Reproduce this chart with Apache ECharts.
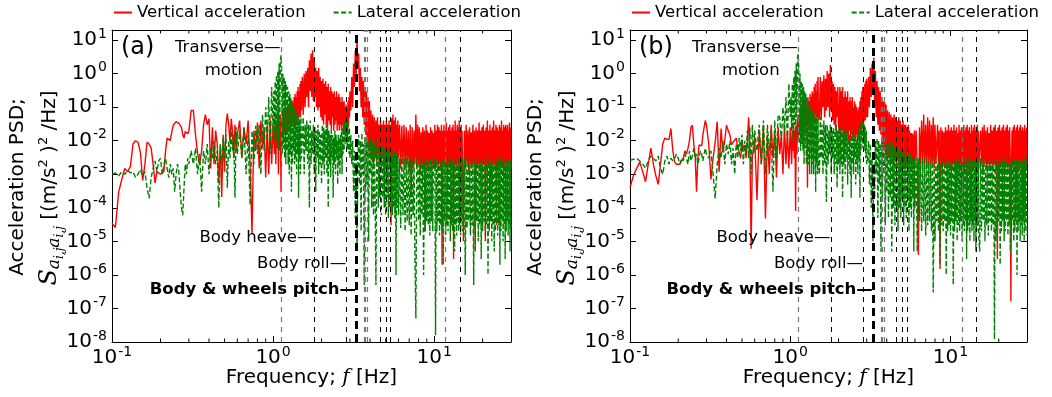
<!DOCTYPE html>
<html>
<head>
<meta charset="utf-8">
<script src="https://cdn.jsdelivr.net/npm/echarts@6/dist/echarts.min.js"></script>
<style>
  html, body { margin: 0; padding: 0; background: #fff; }
  #chart { width: 1052px; height: 397px; }
</style>
</head>
<body>
<div id="chart"></div>
<script>
// frequency grid shared by every trace (Hz)
const freqs = [
  0.1,0.105,0.11,0.115,0.12,0.125,0.13,0.135,0.14,0.145,0.15,0.155,0.16,0.165,0.17,0.175,0.18,0.185,0.19,0.195,
  0.2,0.205,0.21,0.215,0.22,0.225,0.23,0.235,0.24,0.245,0.25,0.255,0.26,0.265,0.27,0.275,0.28,0.285,0.29,0.295,0.3,
  0.31,0.32,0.33,0.34,0.35,0.36,0.37,0.38,0.39,0.4,0.41,0.42,0.43,0.44,0.45,0.46,0.47,0.48,0.49,0.5,
  0.51,0.52,0.53,0.54,0.55,0.56,0.57,0.58,0.59,0.6,
  0.62,0.64,0.66,0.68,0.7,0.72,0.74,0.76,0.78,0.8,0.82,0.84,0.86,0.88,0.9,0.92,0.94,0.96,0.98,1,
  1.01,1.02,1.03,1.04,1.05,1.06,1.07,1.08,1.09,1.1,1.11,1.12,1.13,1.14,1.15,1.16,1.17,1.18,1.19,1.2,
  1.21,1.22,1.23,1.24,1.25,1.26,1.27,1.28,1.29,1.3,1.31,1.32,1.33,1.34,1.35,1.36,1.37,1.38,1.39,1.4,
  1.41,1.42,1.43,1.44,1.45,1.46,1.47,1.48,1.49,1.5,
  1.52,1.54,1.56,1.58,1.6,1.62,1.64,1.66,1.68,1.7,1.72,1.74,1.76,1.78,1.8,1.82,1.84,1.86,1.88,1.9,
  1.92,1.94,1.96,1.98,2,
  2.02,2.04,2.06,2.08,2.1,2.12,2.14,2.16,2.18,2.2,2.22,2.24,2.26,2.28,2.3,2.32,2.34,2.36,2.38,2.4,
  2.42,2.44,2.46,2.48,2.5,2.52,2.54,2.56,2.58,2.6,2.62,2.64,2.66,2.68,2.7,2.72,2.74,2.76,2.78,2.8,
  2.82,2.84,2.86,2.88,2.9,2.92,2.94,2.96,2.98,3,
  3.04,3.08,3.12,3.16,3.2,3.24,3.28,3.32,3.36,3.4,3.44,3.48,3.52,3.56,3.6,3.64,3.68,3.72,3.76,3.8,
  3.84,3.88,3.92,3.96,4,
  4.05,4.1,4.15,4.2,4.25,4.3,4.35,4.4,4.45,4.5,4.55,4.6,4.65,4.7,4.75,4.8,4.85,4.9,4.95,5,
  5.05,5.1,5.15,5.2,5.25,5.3,5.35,5.4,5.45,5.5,5.55,5.6,5.65,5.7,5.75,5.8,5.85,5.9,5.95,6,
  6.1,6.2,6.3,6.4,6.5,6.6,6.7,6.8,6.9,7,7.1,7.2,7.3,7.4,7.5,7.6,7.7,7.8,7.9,8,
  8.1,8.2,8.3,8.4,8.5,8.6,8.7,8.8,8.9,9,9.1,9.2,9.3,9.4,9.5,9.6,9.7,9.8,9.9,10,
  10.1,10.2,10.3,10.4,10.5,10.6,10.7,10.8,10.9,11,11.1,11.2,11.3,11.4,11.5,11.6,11.7,11.8,11.9,12,
  12.1,12.2,12.3,12.4,12.5,12.6,12.7,12.8,12.9,13,13.1,13.2,13.3,13.4,13.5,13.6,13.7,13.8,13.9,14,
  14.1,14.2,14.3,14.4,14.5,14.6,14.7,14.8,14.9,15,
  15.2,15.4,15.6,15.8,16,16.2,16.4,16.6,16.8,17,17.2,17.4,17.6,17.8,18,
  18.2,18.4,18.6,18.8,19,19.2,19.4,19.6,19.8,20,20.2,20.4,20.6,20.8,21,21.2,21.4,21.6,21.8,22,
  22.2,22.4,22.6,22.8,23,23.2,23.4,23.6,23.8,24,24.2,24.4,24.6,24.8,25,25.2,25.4,25.6,25.8,26,
  26.2,26.4,26.6,26.8,27,27.2,27.4,27.6,27.8,28,28.2,28.4,28.6,28.8,29,29.2,29.4,29.6,29.8,30
];

// panel (a): vertical acceleration PSD
const vertA = [
  3.5e-5,2.6e-5,3e-4,7e-4,1.5e-3,1.2e-3,1.7e-3,8e-3,1e-2,9e-3,4.6e-3,6.6e-4,1.9e-3,9e-3,8e-3,6e-3,2e-3,5.5e-4,1.2e-3,1.1e-3,
  1e-3,1.1e-3,1.2e-3,5e-3,1.2e-2,1.3e-2,1e-2,1.8e-2,2.9e-2,3.2e-2,3.7e-2,3.5e-2,3.3e-2,3.3e-2,2.5e-2,1.5e-2,1.2e-2,1.9e-2,1.7e-2,1.6e-2,1.9e-2,
  8e-2,8e-2,1.5e-2,4.2e-3,1.9e-3,5e-3,2.9e-2,6e-2,3e-2,4.5e-2,1.5e-3,2.5e-2,2e-3,2e-2,8e-3,5.5e-4,7e-3,2.1e-4,1.5e-2,1.2e-3,
  3e-2,6.5e-2,3e-2,9e-3,4.5e-2,1.9e-2,3e-3,3e-2,5e-3,1.5e-2,
  4e-2,3e-3,2.5e-2,8e-3,4e-2,2e-3,1.7e-5,2e-2,5e-3,3.5e-2,1.5e-3,4e-2,6e-3,2.5e-2,8e-4,3e-2,1e-3,4.5e-2,2e-3,3e-2,
  3e-2,4e-3,5e-2,2e-3,3e-2,6e-3,6e-2,1e-3,4e-2,5e-3,6e-2,3e-4,5e-2,1.5e-2,8e-2,1.2e-2,7e-2,2e-2,1e-1,1.5e-2,
  9e-2,1.8e-2,1.2e-1,2e-2,1e-1,3e-2,1.4e-1,2e-2,1.2e-1,2.5e-2,1.6e-1,3e-2,1.4e-1,2.5e-2,2e-1,3e-2,2.5e-1,4e-2,2e-1,3e-2,
  3e-1,4e-2,4e-1,5e-2,3e-1,6e-2,5e-1,5e-2,6e-1,8e-2,
  8e-1,6e-2,1,1e-1,1.2,2e-1,1.5,1e-1,2.5,3e-1,4,2e-1,5,1.5e-1,3,2e-1,1.5,1e-1,1.2,8e-2,
  1.5,1e-1,8e-1,5e-2,6e-1,
  4e-2,7e-1,3e-2,5e-1,6e-2,6e-1,3e-2,4e-1,2.5e-2,5e-1,4e-2,3e-1,3e-2,4e-1,2e-2,3e-1,5e-2,2.5e-1,2e-2,3e-1,
  3e-2,2e-1,4e-2,3e-1,2e-2,2e-1,3e-2,2.5e-1,2e-2,2e-1,3e-2,1.4e-1,2e-2,2e-1,3e-2,1.4e-1,2e-2,1.5e-1,1.5e-2,1e-1,
  2e-2,1.2e-1,1.5e-2,1e-1,2e-2,1.5e-1,3e-2,2e-1,5e-2,3e-1,
  8e-2,8e-1,1e-1,2,4e-1,5,1,12,1.5,4,3e-1,1.5,1e-1,8e-1,5e-2,6e-1,3e-2,4e-1,1.5e-2,3e-1,
  8e-3,2e-1,5e-3,1.5e-1,4e-3,
  8e-2,3e-3,6e-2,2e-3,5e-2,3e-3,4e-2,2e-3,5e-2,4e-3,3e-2,2e-3,4e-2,1.5e-3,3e-2,3e-3,4e-2,2e-3,3e-2,1.5e-3,
  4e-2,2e-3,3e-2,3e-3,4e-2,2e-3,3e-2,3e-5,4.7e-2,2e-3,6e-2,1.5e-3,4e-2,3e-3,5e-2,1.5e-3,3e-2,2e-3,4e-2,3e-3,
  3e-2,1.5e-3,2.8e-2,2e-3,3e-2,1.5e-3,2.5e-2,2e-3,2e-2,1.2e-3,3e-2,2e-4,2.5e-2,1.5e-3,2e-2,2e-3,6e-2,1.5e-3,3e-2,2e-3,
  2.5e-2,1e-3,1.8e-2,2e-3,2.5e-2,1.5e-3,2e-2,2e-5,3e-2,1.8e-3,2e-2,1.5e-3,1.7e-2,2e-3,2.5e-2,1.5e-3,2e-2,2e-3,1.7e-2,1.5e-3,
  3e-2,1.5e-3,2e-2,2e-3,3e-2,1.5e-3,2.5e-2,2e-3,2e-2,1.5e-3,3e-2,2e-6,2e-2,2e-3,3e-2,1.5e-3,2e-2,2e-3,3.5e-2,1.5e-3,
  2e-2,2e-3,2.5e-2,1.5e-3,3e-2,2e-3,2e-2,1.5e-3,2.5e-2,2e-3,3e-2,3e-6,2e-2,1.5e-3,4e-2,2e-3,2e-2,1.5e-3,3e-2,2e-3,
  2.5e-2,1.5e-3,4e-2,2e-3,2e-2,1.5e-3,3e-2,2e-3,2e-2,1.5e-3,
  1e-5,2e-2,1.5e-3,3e-2,2e-3,
  2e-2,1.3e-3,2.5e-2,2e-3,1.8e-2,1.5e-3,3e-2,2e-3,2e-2,5e-6,
  2.5e-2,1.5e-3,2e-2,2e-3,3.5e-2,1.5e-3,2e-2,2e-3,2.5e-2,1.5e-3,
  3e-2,2e-3,2e-2,1e-5,2.5e-2,1.5e-3,4e-2,2e-3,2e-2,1.5e-3,
  3e-2,2e-3,2e-2,1.5e-3,2.5e-2,2e-3,4e-2,1.5e-3,2e-2,2e-3,
  3e-2,3e-5,2.5e-2,1.5e-3,2e-2,2e-3,3e-2,1.5e-3,2.5e-2,2e-3,
  4e-2,1.5e-3,2e-2,2e-3,3e-2,1.5e-3,2.5e-2,2e-3,3e-2,2e-3,
  2.5e-2,1.5e-3,3e-2,2e-3,2e-2,1.5e-3,3.5e-2,2e-3,2.5e-2,1.5e-3
];

// panel (a): lateral acceleration PSD
const latA = [
  1e-3,1.1e-3,9e-4,1.2e-3,1e-3,1.3e-3,1.1e-3,1.2e-3,8e-4,1e-3,1.4e-3,9e-4,1.2e-3,4e-4,1.9e-4,8e-4,1.5e-3,2.5e-3,1.2e-3,2.5e-3,
  3e-3,1e-3,2e-3,3e-3,1.5e-3,8e-4,2e-3,1e-3,1.5e-3,3e-4,1e-3,2e-3,1.2e-3,3e-4,1e-4,6e-5,4e-4,2e-3,1e-3,3e-3,2e-3,
  5e-3,2e-3,6e-3,1e-3,4e-3,3e-4,5e-3,2e-3,8e-3,1e-3,6e-3,3e-3,1e-2,2e-3,5e-3,1e-4,8e-3,2e-3,1.2e-2,3e-3,
  1.5e-2,4e-4,1e-2,3e-3,2e-2,5e-3,1.5e-2,2e-4,2.5e-2,4e-3,
  2e-2,3e-3,2.5e-2,1e-3,1.5e-2,1.2e-4,2e-2,2e-3,2.8e-2,4e-3,3e-2,1e-3,6e-2,5e-3,1e-1,1e-2,2e-1,4e-3,4e-1,2e-2,
  3e-1,1e-2,6e-1,2e-2,9e-1,1e-2,1.2,5e-3,2,3e-2,2.5,3.5,1.5,4e-3,1,6e-3,8e-1,3e-3,6e-1,2e-3,
  5e-1,5e-3,4e-1,2e-3,3e-1,1e-3,2.5e-1,4e-3,2e-1,3e-4,1.5e-1,2e-3,1.2e-1,5e-3,1e-1,2e-3,8e-2,3e-3,7e-2,1e-3,
  6e-2,4e-3,5e-2,2e-4,6e-2,3e-3,4e-2,1e-3,5e-2,3e-3,
  3e-3,5e-2,1e-3,3e-2,5e-3,4e-2,2e-3,3e-2,1e-4,4e-2,2e-3,2e-2,4e-3,3e-2,1e-3,2.5e-2,3e-4,2e-2,3e-3,3e-2,
  1e-3,2e-2,2e-3,1.5e-2,5e-4,
  3e-2,2e-3,2.5e-2,1e-3,2e-2,3e-3,3e-2,1e-3,2.5e-2,1e-4,2e-2,2e-3,1.5e-2,8e-4,2e-2,3e-3,1.5e-2,2e-4,1.2e-2,2e-3,
  2e-2,1e-3,1.5e-2,3e-3,1e-2,5e-4,1.5e-2,2e-3,1.2e-2,1e-3,1.5e-2,3e-3,2e-2,1e-3,2.5e-2,4e-3,3e-2,5e-3,4e-2,8e-3,
  4.5e-2,1e-2,4e-2,6e-3,3.5e-2,5e-3,3e-2,4e-3,2.5e-2,3e-3,
  1.5e-2,2e-3,1e-2,3e-4,5e-3,5e-5,3e-3,5e-6,2e-3,1.5e-2,5e-4,1e-2,2e-5,1.7e-2,1e-3,8e-3,5e-7,1e-2,3e-4,1.2e-2,
  5e-4,8e-3,1e-5,1e-2,1e-3,
  1.2e-2,1e-4,1e-2,6e-5,8e-3,2e-4,5e-7,8e-3,1.2e-2,1e-4,6e-3,2e-4,8e-3,6e-5,6e-3,2e-4,8e-3,1e-4,5e-3,6e-5,
  6e-3,2e-4,5e-3,5e-5,6e-3,1e-4,4e-3,2e-4,5e-3,6e-5,4e-3,1e-4,5e-3,5e-5,4e-3,1e-6,4e-3,1e-4,3e-3,6e-5,
  3e-3,2.5e-5,4e-3,6e-5,3e-3,2e-5,3e-3,4e-5,2.5e-3,3e-5,3e-3,1.5e-5,2e-3,6e-5,3e-3,3e-6,5e-8,2.5e-3,3e-3,4e-5,
  2e-3,1.5e-5,3e-3,6e-5,2.5e-3,1e-6,2e-3,2e-5,3e-3,4e-5,2e-3,3e-5,2.5e-3,1.5e-5,3e-3,4e-5,2e-3,2e-5,3e-3,2e-3,
  3e-3,1.6e-8,2.5e-3,2e-5,3e-3,4e-5,2e-3,1.5e-5,2.5e-3,3e-5,2e-3,2e-5,3e-3,2e-6,2e-3,4e-5,2.5e-3,1.5e-5,2e-3,3e-5,
  3e-3,2e-5,2e-3,4e-5,2.5e-3,1e-5,3e-3,3e-5,2e-3,2e-5,2.5e-3,4e-5,2e-3,5e-6,3e-3,3e-5,2e-3,1.5e-5,2.5e-3,4e-5,
  2e-3,2e-5,3e-3,3e-5,2e-3,1.5e-5,2.5e-3,4e-5,3e-3,2e-5,
  3e-5,3e-3,1e-6,2e-3,2.5e-5,
  2.5e-3,4e-5,2e-3,1.5e-5,3e-3,3e-5,2e-3,5e-7,2.5e-3,2e-5,
  2e-3,4e-5,3e-3,1e-5,2e-3,3e-5,2.5e-3,3e-6,2e-3,2e-5,
  3e-3,4e-5,2e-3,1.5e-5,2.5e-3,3e-5,2e-3,1e-6,3e-3,2e-5,
  2e-3,4e-5,2.5e-3,1e-5,2e-3,3e-5,3e-3,5e-6,2e-3,2e-5,
  2.5e-3,4e-5,2e-3,1.5e-5,3e-3,3e-5,2e-3,2e-6,2.5e-3,2e-5,
  2e-3,4e-5,3e-3,1e-5,2e-3,3e-5,2.5e-3,3e-6,2e-3,2e-5,
  2.5e-3,4e-5,2e-3,1.5e-5,3e-3,3e-5,2e-3,5e-6,2.5e-3,2e-5
];

// panel (b): vertical acceleration PSD
const vertB = [
  4e-4,9e-4,1.5e-3,2.3e-3,1.2e-3,6e-4,2e-3,6e-3,2e-3,9e-4,5e-4,2e-3,8e-3,1.2e-2,1.1e-2,1.1e-2,2.3e-2,5e-3,2.3e-3,2e-3,
  2.2e-3,2e-3,2.6e-3,3e-3,5e-3,4e-3,5.9e-3,1e-2,2.5e-2,2.9e-2,8e-3,3.5e-3,3e-4,3e-3,7.5e-3,8e-3,7e-3,1.5e-2,2.5e-2,4e-2,2.9e-2,
  8e-3,7e-4,3e-3,9e-3,3.7e-2,1.2e-3,2.3e-2,4.6e-3,1e-2,2.9e-2,2e-2,1.5e-2,7.5e-3,9e-3,1e-2,1.2e-2,6e-3,4.6e-3,3e-3,9e-3,
  6e-3,7.5e-3,3e-3,1e-2,5e-2,5e-3,6e-6,4e-3,4.6e-3,1.2e-2,
  1.7e-4,2e-2,2e-3,3e-2,4.8e-5,1.5e-2,1e-3,3e-2,3e-3,2e-2,8e-4,2.5e-2,4e-3,1.5e-2,1e-3,3e-2,2e-3,2e-2,1.5e-3,2.5e-2,
  2.5e-2,2e-3,2e-2,5e-3,3e-2,3e-3,2e-2,8e-5,3e-2,4e-3,5e-2,1e-2,6e-2,1.5e-2,8e-2,2e-2,1e-1,1.3e-2,1.5e-1,2e-2,
  1e-1,3e-2,1.5e-1,2e-2,2e-1,3e-2,1.2e-1,4e-4,2e-1,3e-2,1.5e-1,2e-2,2.5e-1,4e-2,2e-1,3e-2,3e-1,2.8e-2,2.5e-1,5e-2,
  4e-1,3e-2,5e-1,6e-2,3e-1,4e-2,6e-1,5e-2,8e-1,4e-2,
  5e-2,8e-1,4e-2,6e-1,1e-1,9e-1,5e-2,7e-1,8e-2,1.2,1e-1,1,5e-2,1.8,8e-2,6e-1,4e-2,5e-1,3e-2,4e-1,
  2e-2,3e-1,5e-2,4e-1,3e-2,
  2e-2,4e-1,1.5e-2,3e-1,2e-2,4e-1,1e-2,2e-1,2e-2,3e-1,1e-2,2e-1,1.5e-2,3e-1,1e-2,1.5e-1,2e-2,2e-1,1e-2,1.5e-1,
  1.5e-2,2e-1,1e-2,1e-1,1.3e-2,1.5e-1,1e-2,1.2e-1,1.5e-2,1e-1,1e-2,8e-2,1.3e-2,1e-1,1e-2,1.5e-1,2e-2,2e-1,2e-2,3e-1,
  3e-2,4e-1,3e-2,3e-1,4e-2,5e-1,4e-2,6e-1,5e-2,7e-1,
  5e-2,8e-1,1e-1,1.5,2e-1,2,3e-1,3,1e-1,1.2,5e-2,6e-1,3e-2,4e-1,2e-2,3e-1,1.5e-2,2e-1,8e-3,1.5e-1,
  5e-3,1.4e-1,4e-3,1.2e-1,3e-3,
  8e-2,3e-3,7e-2,2e-3,6e-2,3e-3,5e-2,2e-3,6e-2,3e-3,5e-2,2e-3,4e-2,3e-3,5e-2,2e-3,4e-2,1.5e-3,3e-2,2e-3,
  4e-2,1.5e-3,3e-2,2e-3,3e-2,1.5e-3,2.5e-2,2e-3,3e-2,1.5e-3,2e-2,2e-3,1.7e-2,1.5e-3,1.7e-2,2e-3,1.5e-2,1.5e-3,2e-2,2e-3,
  2e-2,1.5e-3,4e-6,2.5e-2,2e-3,4e-2,1.5e-3,6e-2,2e-3,3e-2,1.5e-3,5e-2,2e-3,4e-2,1.5e-3,3e-2,2e-3,5e-2,1.5e-3,3e-2,
  2e-3,2e-3,3e-2,1.5e-3,2e-2,1.5e-6,2.5e-2,1.5e-3,2e-2,2e-3,1.8e-2,1.5e-3,2.5e-2,2e-3,2e-2,1.5e-3,3e-2,2e-3,2e-2,1.5e-3,
  2.5e-2,1.5e-3,2e-2,2e-3,3e-2,1.3e-3,2e-2,2e-3,2.5e-2,1.5e-3,1.7e-2,2e-3,3e-2,1.3e-3,2e-2,2e-3,2.5e-2,1.5e-3,1.8e-2,2e-3,
  3e-2,1.3e-3,2e-2,2e-3,2.5e-2,1.5e-3,3e-2,2e-3,2e-2,1.3e-3,2.5e-2,2e-3,1.7e-2,1.5e-3,3e-2,2e-3,2e-2,1.3e-3,2.5e-2,2e-3,
  3e-2,1.5e-3,2e-2,2e-3,2.5e-2,1.3e-3,3e-2,2e-3,2e-2,1.5e-3,
  1.5e-3,2e-2,2e-3,2.5e-2,1.3e-3,
  3e-2,2e-3,2e-2,1.5e-3,2.5e-2,2e-3,1.7e-2,1.3e-3,3e-2,2e-3,
  2e-2,1.5e-3,2.5e-2,2e-3,3e-2,1.3e-3,2e-2,3e-6,2.5e-2,2e-3,
  3e-2,1.5e-3,2e-2,2e-3,2.5e-2,1.3e-3,3e-2,2e-3,2e-2,1.5e-3,
  2.5e-2,2e-3,3e-2,1.3e-3,2e-2,2e-3,2.5e-2,2e-3,1.6e-7,1.5e-3,
  2e-2,2e-3,2.5e-2,1.3e-3,3e-2,2e-3,2e-2,1.5e-3,2.5e-2,2e-3,
  3e-2,1.3e-3,2e-2,2e-3,2.5e-2,1.5e-3,3e-2,2e-3,2e-2,1.5e-3,
  2.5e-2,2e-3,2e-2,1.3e-3,3e-2,2e-3,2e-2,1.5e-3,2.5e-2,2e-3
];

// panel (b): lateral acceleration PSD
const latB = [
  2.6e-3,2.8e-3,3e-3,2.5e-3,2e-3,1.5e-3,2.5e-3,3.5e-3,3e-3,2.5e-3,3.5e-3,1.5e-3,1e-3,2.5e-3,3.5e-3,2e-3,3e-3,2.5e-3,3e-3,4e-3,
  3e-3,2e-3,3e-3,2.5e-3,4e-3,3e-3,2e-3,5e-3,2.5e-3,3.5e-3,6e-3,3e-3,4e-3,2e-3,3e-3,5e-3,4e-3,2.5e-3,4e-3,6e-3,4e-3,
  3e-3,5e-3,1e-3,1.9e-4,2e-3,6e-3,3e-3,1e-2,2e-3,8e-3,4e-3,1e-2,2e-3,6e-3,1e-3,8e-3,3e-3,1.2e-2,5e-3,1.5e-2,
  2e-3,1e-2,4e-3,2e-2,3e-3,2.5e-2,1e-3,3e-2,4e-3,2e-2,
  5e-3,3e-2,2e-3,4e-2,1e-3,3e-2,5e-3,2e-2,3e-4,4e-2,3e-3,6e-2,5e-2,1e-2,1e-1,2e-2,2e-1,1e-2,5e-1,5e-2,
  2e-1,2e-2,5e-1,1e-2,8e-1,3e-2,1.2,1e-2,2,5e-2,3,4,1.5,8e-3,1,5e-3,6e-1,8e-3,5e-1,5e-3,
  4e-1,2e-3,3e-1,6e-3,2.5e-1,2e-3,2e-1,6e-3,1.5e-1,2e-3,1.2e-1,1e-3,1e-1,3e-3,9e-2,1e-3,8e-2,2e-3,7e-2,1e-3,
  6e-2,3e-3,5e-2,3e-4,6e-2,2e-3,5e-2,1e-3,4e-2,2e-3,
  1e-3,5e-2,3e-3,3e-2,1e-3,4e-2,2e-3,3e-2,1.5e-4,3e-2,2e-3,2e-2,4e-3,3e-2,1e-3,2e-2,3e-3,2.5e-2,1e-3,2e-2,
  2e-3,3e-2,4e-4,2e-2,2e-3,
  2.5e-2,1e-3,2e-2,2e-3,2.5e-2,2e-4,1.5e-2,2e-3,2e-2,1e-3,1.5e-2,3e-3,2e-2,5e-4,1.2e-2,2e-3,1.5e-2,1e-3,1e-2,2e-4,
  1.5e-2,2e-3,2e-2,1e-3,1.2e-2,3e-3,1.5e-2,5e-4,1e-2,2e-3,1.5e-2,1e-3,2e-2,3e-3,2.5e-2,2e-4,3e-2,5e-3,4e-2,1e-2,
  3.5e-2,6e-3,4e-2,8e-3,3e-2,5e-3,2.5e-2,3e-3,2e-2,2e-3,
  3e-3,1e-2,5e-4,8e-3,1e-4,3e-3,1e-5,2e-3,2e-4,1e-2,1e-3,1.2e-2,5e-5,1e-2,5e-4,8e-3,5e-6,1e-2,2e-4,8e-3,
  1e-3,6e-3,3e-5,8e-3,3e-4,
  1e-2,5e-5,8e-3,2e-4,1e-2,5e-6,8e-3,1e-4,6e-3,3e-5,8e-3,1e-4,5e-3,2e-5,6e-3,1e-4,5e-3,5e-5,4e-3,2e-4,
  5e-3,3e-5,4e-3,1e-4,5e-3,5e-5,3e-3,2e-4,4e-3,2e-5,3e-3,1e-4,4e-3,5e-5,3e-3,2e-4,3e-3,5e-6,3e-3,1e-4,
  3e-3,5e-6,3e-3,4e-5,2.5e-3,2e-5,3e-3,4e-5,2e-3,1.5e-5,3e-3,3e-5,2.5e-3,4e-5,2e-3,2e-5,3e-3,3e-7,2e-3,1e-5,
  2.5e-3,4e-5,2e-3,2e-5,3e-3,2e-6,2e-3,3e-5,2.5e-3,2e-5,2e-3,4e-5,3e-3,1e-6,2e-3,2e-5,2.5e-3,3e-5,2e-3,1.5e-5,
  2.5e-3,4e-5,2e-3,5e-7,3e-3,2e-5,2e-3,4e-5,2.5e-3,1e-5,2e-3,3e-5,3e-3,2e-5,2e-3,4e-5,2.5e-3,1e-5,2e-3,3e-5,
  3e-3,2e-5,2e-3,4e-5,2.5e-3,3e-6,2e-3,2e-5,3e-3,3e-5,2e-3,1e-5,2.5e-3,4e-5,2e-3,2e-5,3e-3,3e-5,2e-3,1e-5,
  2.5e-3,4e-5,2e-3,5e-6,3e-3,2e-5,2e-3,3e-5,2.5e-3,1.5e-5,
  5e-6,3e-3,2e-5,2e-3,4e-5,
  2.5e-3,1e-5,2e-3,3e-5,3e-3,1.5e-5,2e-3,4e-5,2.5e-3,2e-5,
  2e-3,3e-5,3e-3,1.2e-8,2e-3,1e-5,2.5e-3,2e-5,2e-3,4e-5,
  3e-3,2e-6,2e-3,2e-5,2.5e-3,4e-5,2e-3,1e-5,3e-3,2e-5,
  2e-3,4e-5,2.5e-3,1.5e-5,2e-3,3e-5,3e-3,5e-6,2e-3,2e-5,
  2.5e-3,4e-5,2e-3,1e-5,3e-3,2e-5,2e-3,4e-5,2.5e-3,1e-6,
  2e-3,2e-5,3e-3,4e-5,2e-3,1e-5,2.5e-3,3e-5,2e-3,1.5e-5,
  2.5e-3,4e-5,2e-3,1e-5,3e-3,2e-5,2e-3,4e-5,2.5e-3,1.5e-5
];

// identified modes (Hz), drawn as vertical dashed lines
const modeFreqs = [1.12, 1.794, 2.863, 3.30, 3.683, 3.762, 3.843, 4.61, 5.02, 5.37, 11.79, 14.46];
const modeKinds = ['grey', 'black', 'black', 'thick', 'grey', 'grey', 'grey', 'black', 'black', 'black', 'grey', 'black'];

// annotations: text, frequency of the mode it points to, PSD level of the text
const noteTexts = ['Transverse', 'motion', 'Body heave', 'Body roll', 'Body & wheels pitch'];
const noteFreqs = [1.12, 1.12, 1.794, 2.863, 3.30];
const noteLevels = [5.9, 1.26, 1.25e-5, 2.2e-6, 3.5e-7];

// minor ticks of the frequency axis
const minorFreqs = [0.2, 0.3, 0.4, 0.5, 0.6, 0.7, 0.8, 0.9, 2, 3, 4, 5, 6, 7, 8, 9, 20];

[vertA, latA, vertB, latB].forEach((a, i) => {
  if (a.length !== freqs.length) throw new Error('series ' + i + ': ' + a.length + ' values, expected ' + freqs.length);
});

const FONT = 'DejaVu Sans';
const X_MIN = 0.1, X_MAX = 30, Y_MIN = 1e-8, Y_MAX = 20;

const panels = [
  { left: 112, width: 399, vert: vertA, lat: latA, tag: '(a)' },
  { left: 630, width: 397, vert: vertB, lat: latB, tag: '(b)' }
];

const chart = echarts.init(document.getElementById('chart'));

function powLabel(v) {
  const e = Math.round(Math.log10(v));
  return '{b|10}{e|' + e + '}';
}
const tickRich = {
  b: { fontFamily: FONT, fontSize: 20, color: '#000' },
  e: { fontFamily: FONT, fontSize: 14, color: '#000', padding: [0, 0, 12, 1] }
};

const modeStyles = {
  grey: { color: '#777', width: 1.2, type: [5, 5] },
  black: { color: '#000', width: 1, type: [5, 5] },
  thick: { color: '#000', width: 3, type: [8, 5] }
};

const xAxes = [], yAxes = [], grids = [], series = [];

panels.forEach((p, i) => {
  grids.push({ left: p.left, top: 30, width: p.width, height: 312, show: false, outerBoundsMode: 'none' });

  const axisLine = { show: true, onZero: false, lineStyle: { color: '#000', width: 1 } };
  const axisTick = { show: true, inside: true, length: 6, lineStyle: { color: '#000', width: 1 } };

  xAxes.push({
    type: 'log', logBase: 10, gridIndex: i, min: X_MIN, max: X_MAX, position: 'bottom',
    name: '{n|Frequency; }{i|f}{n| [Hz]}', nameLocation: 'middle', nameGap: 26, nameMoveOverlap: false,
    nameTextStyle: {
      rich: {
        n: { fontFamily: FONT, fontSize: 20, color: '#000' },
        i: { fontFamily: 'DejaVu Serif', fontStyle: 'italic', fontSize: 20, color: '#000' }
      }
    },
    axisLine, axisTick,
    axisLabel: {
      formatter: powLabel, rich: tickRich, margin: 3, showMaxLabel: false, hideOverlap: false,
      alignMinLabel: 'center', alignMaxLabel: 'center'
    },
    splitLine: { show: false }
  });
  xAxes.push({
    type: 'log', logBase: 10, gridIndex: i, min: X_MIN, max: X_MAX, position: 'top',
    axisLine, axisTick, axisLabel: { show: false }, splitLine: { show: false }
  });
  yAxes.push({
    type: 'log', logBase: 10, gridIndex: i, min: Y_MIN, max: Y_MAX, position: 'left',
    axisLine, axisTick,
    axisLabel: { formatter: powLabel, rich: tickRich, margin: 5, showMaxLabel: false, hideOverlap: false },
    splitLine: { show: false }
  });
  yAxes.push({
    type: 'log', logBase: 10, gridIndex: i, min: Y_MIN, max: Y_MAX, position: 'right',
    axisLine, axisTick, axisLabel: { show: false }, splitLine: { show: false }
  });

  const xi = 2 * i, yi = 2 * i;

  series.push({
    type: 'line', name: 'Vertical acceleration', xAxisIndex: xi, yAxisIndex: yi,
    data: freqs.map((f, k) => [f, p.vert[k]]),
    symbol: 'none', showSymbol: false, color: '#ff0000', z: 2, silent: true,
    lineStyle: { color: '#ff0000', width: 1.4, join: 'bevel' }
  });
  series.push({
    type: 'line', name: 'Lateral acceleration', xAxisIndex: xi, yAxisIndex: yi,
    data: freqs.map((f, k) => [f, p.lat[k]]),
    symbol: 'none', showSymbol: false, color: '#008000', z: 3, silent: true,
    lineStyle: { color: '#008000', width: 1.4, type: [5, 2.5], join: 'bevel' }
  });
  series.push({
    type: 'scatter', xAxisIndex: xi, yAxisIndex: yi, symbolSize: 1, z: 5, silent: true,
    itemStyle: { color: 'rgba(0,0,0,0)', opacity: 1 },
    data: noteTexts.map((t, k) => ({
      value: [noteFreqs[k], noteLevels[k]],
      label: {
        show: true, position: 'left', distance: k === 1 ? 18 : 0,
        formatter: k === 1 ? t : t + '\u2014',
        fontFamily: FONT, fontSize: 16.5, color: '#000', opacity: 1,
        fontWeight: k === 4 ? 'bold' : 'normal'
      }
    })),
    markLine: {
      silent: true, symbol: ['none', 'none'], label: { show: false }, animation: false,
      data: modeFreqs.map((f, k) => ({ xAxis: f, lineStyle: modeStyles[modeKinds[k]] }))
    }
  });
  series.push({
    type: 'custom', xAxisIndex: xi, yAxisIndex: yi, silent: true, z: 6,
    data: minorFreqs.map(f => [f, Y_MIN]),
    renderItem: (params, api) => {
      const b = api.coord([api.value(0), Y_MIN]);
      const t = api.coord([api.value(0), Y_MAX]);
      return {
        type: 'group',
        children: [
          { type: 'line', shape: { x1: b[0], y1: b[1], x2: b[0], y2: b[1] - 3.5 }, style: { stroke: '#000', lineWidth: 1 } },
          { type: 'line', shape: { x1: t[0], y1: t[1], x2: t[0], y2: t[1] + 3.5 }, style: { stroke: '#000', lineWidth: 1 } }
        ]
      };
    }
  });
});

const yTitleRich = {
  s: { fontFamily: 'DejaVu Serif', fontStyle: 'italic', fontSize: 24, fill: '#000' },
  a: { fontFamily: 'DejaVu Serif', fontStyle: 'italic', fontSize: 17, fill: '#000', padding: [10, 0, 0, 0] },
  ij: { fontFamily: 'DejaVu Serif', fontStyle: 'italic', fontSize: 12, fill: '#000', padding: [20, 0, 0, 0] },
  n: { fontFamily: FONT, fontSize: 20, fill: '#000' },
  sup: { fontFamily: FONT, fontSize: 13, fill: '#000', padding: [0, 0, 12, 0] }
};

const graphic = [];
panels.forEach(p => {
  const dx = p.left - 112;
  graphic.push({
    type: 'text', x: p.left + 9, y: 48, silent: true,
    style: { text: p.tag, fontFamily: FONT, fontSize: 24, fill: '#000', verticalAlign: 'middle' }
  });
  graphic.push({
    type: 'text', x: 18 + dx, y: 187, rotation: Math.PI / 2, silent: true,
    style: { text: 'Acceleration PSD;', fontFamily: FONT, fontSize: 20, fill: '#000', align: 'center', verticalAlign: 'middle' }
  });
  graphic.push({
    type: 'text', x: 50 + dx, y: 188, rotation: Math.PI / 2, silent: true,
    style: {
      text: '{s|S}{a|a}{ij|i,j}{a|a}{ij|i,j}{n| [(m/s}{sup|2}{n| )}{sup|2}{n| /Hz]}',
      rich: yTitleRich, align: 'center', verticalAlign: 'middle'
    }
  });
});

chart.setOption({
  animation: false,
  backgroundColor: '#fff',
  textStyle: { fontFamily: FONT },
  legend: panels.map(p => ({
    left: p.left + 1, top: 4, padding: 0, itemWidth: 18, itemHeight: 10, itemGap: 27,
    itemStyle: { opacity: 0 },
    textStyle: { fontFamily: FONT, fontSize: 16.5, color: '#000' },
    data: ['Vertical acceleration', 'Lateral acceleration']
  })),
  grid: grids,
  xAxis: xAxes,
  yAxis: yAxes,
  series,
  graphic
});
</script>
</body>
</html>
